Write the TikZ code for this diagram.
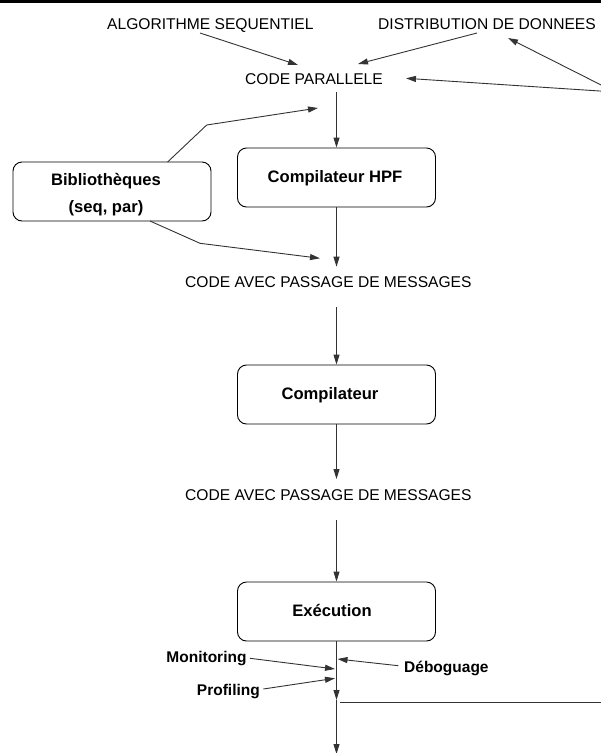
\documentclass[tikz,border=0pt]{standalone}
\usepackage{fontspec}
\setmainfont{Liberation Sans}
\usetikzlibrary{arrows.meta}

\tikzset{
  flow/.style={draw=black!80, line width=0.9pt, -{Triangle[length=10pt,width=6pt]}},
  plain/.style={draw=black!80, line width=0.9pt},
  stage/.style={draw=black, line width=0.9pt, rounded corners=9pt,
                minimum width=198pt, minimum height=59pt, inner sep=0pt},
  caption/.style={font=\fontsize{15.6}{18}\selectfont, inner sep=0pt},
  boxlabel/.style={font=\bfseries\fontsize{16.6}{20}\selectfont, inner sep=0pt},
  sidelabel/.style={font=\bfseries\fontsize{15.5}{18}\selectfont, inner sep=0pt},
}

\begin{document}
\begin{tikzpicture}[x=1pt,y=-1pt]
  \useasboundingbox (0,0) rectangle (601,753);
  \clip (0,0) rectangle (601,753);

  % rule along the top edge
  \fill (0,0) rectangle (601,2.6);

  % plain captions
  \node[caption, anchor=base west] (algo)    at (107,29)  {ALGORITHME SEQUENTIEL};
  \node[caption, anchor=base west] (distrib) at (378,29)  {DISTRIBUTION DE DONNEES};
  \node[caption, anchor=base west] (par)     at (245,84)  {CODE PARALLELE};
  \node[caption, anchor=base west] (msgA)    at (185,287) {CODE AVEC PASSAGE DE MESSAGES};
  \node[caption, anchor=base west] (msgB)    at (185,500) {CODE AVEC PASSAGE DE MESSAGES};

  % processing stages
  \node[stage] (hpf)  at (336.5,177.5) {};
  \node[stage] (bib)  at (112,191.5)   {};
  \node[stage] (comp) at (336.5,394.5) {};
  \node[stage] (exec) at (336.5,611.5) {};

  \node[boxlabel, anchor=base] (hpfT)  at (335,182.6)  {Compilateur HPF};
  \node[boxlabel, anchor=base] (bibT)  at (106,185.2)  {Bibliothèques};
  \node[boxlabel, anchor=base] (bibT2) at (106,212.6)  {(seq, par)};
  \node[boxlabel, anchor=base] (compT) at (330,399.2)  {Compilateur};
  \node[boxlabel, anchor=base] (execT) at (332,616)    {Exécution};

  % tool labels around the execution output
  \node[sidelabel, anchor=base east] (mon)  at (246.7,662.2) {Monitoring};
  \node[sidelabel, anchor=base west] (dbg)  at (404,672.2)   {Déboguage};
  \node[sidelabel, anchor=base east] (prof) at (260,695.5)   {Profiling};

  % connector end points
  \coordinate (algoOut) at (200,33);
  \coordinate (algoIn)  at (298,65);
  \coordinate (distOut) at (477,33);
  \coordinate (distIn)  at (358,64);
  \coordinate (farR)    at (615,92);
  \coordinate (parIn)   at (406,78.3);
  \coordinate (distIn2) at (508,38);
  \coordinate (parOut)  at (336.5,92);
  \coordinate (bibUp)   at (167.6,162);
  \coordinate (bibBendA) at (206.7,125);
  \coordinate (libIn1)  at (318,108);
  \coordinate (bibDown) at (150,221);
  \coordinate (bibBendB) at (200,243.3);
  \coordinate (libIn2)  at (320,258.3);
  \coordinate (msgAIn)  at (336.5,266.7);
  \coordinate (msgAOut) at (336.5,307);
  \coordinate (msgBIn)  at (336.5,479);
  \coordinate (msgBOut) at (336.5,520);
  \coordinate (runOut)  at (336.5,700);
  \coordinate (runEnd)  at (336.5,754);
  \coordinate (tapL)    at (339.5,702.7);
  \coordinate (tapR)    at (601,702.7);
  \coordinate (monOut)  at (250,658.3);
  \coordinate (monIn)   at (335,669);
  \coordinate (dbgOut)  at (398.3,665.7);
  \coordinate (dbgIn)   at (337.5,659);
  \coordinate (profOut) at (263.3,689);
  \coordinate (profIn)  at (335,678.3);

  % inputs of the parallel code
  \draw[flow] (algoOut) -- (algoIn);
  \draw[flow] (distOut) -- (distIn);
  \draw[flow] (farR) -- (parIn);
  \draw[flow] (farR) -- (distIn2);

  % main chain
  \draw[flow] (parOut) -- (hpf.north);
  \draw[flow] (hpf.south) -- (msgAIn);
  \draw[flow] (msgAOut) -- (comp.north);
  \draw[flow] (comp.south) -- (msgBIn);
  \draw[flow] (msgBOut) -- (exec.north);
  \draw[flow] (exec.south) -- (runOut);
  \draw[flow] (runOut) -- (runEnd);
  \draw[plain] (tapL) -- (tapR);

  % libraries
  \draw[flow] (bibUp) -- (bibBendA) -- (libIn1);
  \draw[flow] (bibDown) -- (bibBendB) -- (libIn2);

  % tools
  \draw[flow] (monOut) -- (monIn);
  \draw[flow] (dbgOut) -- (dbgIn);
  \draw[flow] (profOut) -- (profIn);
\end{tikzpicture}
\end{document}
